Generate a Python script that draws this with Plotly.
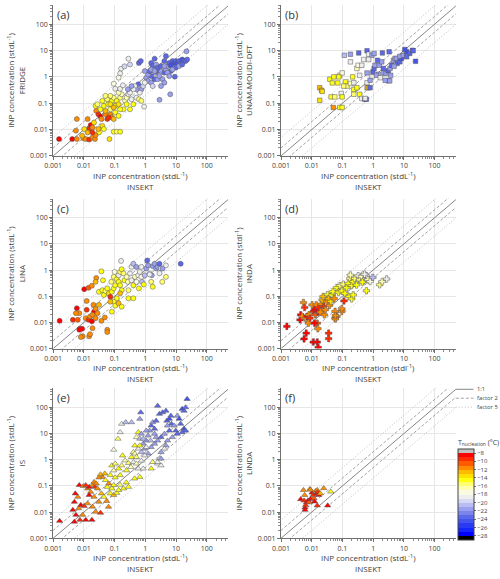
import numpy as np
import plotly.graph_objects as go

# ---------------- data (log10 of INP concentration, stdL-1) ----------------
# (a) FRIDGE vs INSEKT
a_x = [-2.81,-2.38,-2.23,-2.02,-1.94,-1.83,-1.72,-1.64,-2.23,-2.26,
       -1.88,-1.60,-1.83,-1.78,-1.72,-1.67,-1.53,-1.46,-1.43,-1.40,
       -1.35,-1.30,-1.24,-1.14,-1.17,-1.03,-0.93,-0.82,-1.51,-1.62,
       -1.53,-1.88,-1.99,-1.72,-2.06,-1.46,-1.35,-1.30,-1.21,-1.14,
       -1.09,-1.03,-0.98,-0.93,-0.87,-0.82,-0.77,-0.71,-0.66,-0.61,
       -0.55,-0.45,-0.39,-0.29,-0.21,-0.13,-0.04,-1.40,-1.24,-1.14,
       -1.30,-1.14,-0.98,-0.87,-1.09,-1.19,-1.03,-1.62,-1.56,-0.82,
       -0.61,-0.50,-1.03,-1.03,-0.98,-0.87,-0.82,-0.73,-0.55,-0.50,
       -0.79,-0.82,-0.87,-0.68,-0.21,-0.15,0.19,0.30,0.24,0.35,
       0.67,0.62,0.03,0.09,0.19,0.19,0.24,0.30,0.32,0.38,
       0.40,0.46,0.51,0.56,0.62,0.67,0.72,0.78,0.83,0.88,
       0.94,0.99,1.04,1.10,1.15,1.20,1.26,1.31,1.36,1.34,
       0.99,0.83,0.72,0.62,0.51,0.46,0.96,-0.13,-0.07,-0.18,
       -0.29,-0.23,-0.34,-0.39,-0.45,-0.50,-0.57,0.09,-0.02,0.14,
       0.88,1.10,1.20,0.40,0.51,0.78,0.62,0.19,0.30,-0.02,
       0.81]
a_y = [-2.36,-2.36,-2.36,-2.33,-2.36,-2.38,-2.30,-2.36,-1.60,-2.04,
       -1.60,-1.29,-1.98,-1.83,-1.92,-1.73,-1.42,-1.50,-1.60,-1.86,
       -1.98,-1.42,-1.60,-1.42,-2.36,-2.08,-2.08,-2.08,-2.11,-2.21,
       -1.98,-2.11,-1.98,-2.11,-2.23,-1.23,-1.10,-1.29,-1.04,-1.23,
       -0.91,-0.79,-1.10,-0.91,-1.04,-0.79,-0.66,-1.23,-0.91,-0.79,
       -0.66,-0.85,-1.04,-0.79,-0.85,-0.91,-1.13,-0.91,-0.85,-0.72,
       -0.72,-1.04,-1.35,-1.48,-1.54,-1.54,-1.60,-1.10,-1.04,-1.23,
       -1.04,-1.23,-1.16,-0.26,-0.45,-0.60,-0.45,-0.32,0.69,0.47,
       0.31,0.13,-0.03,0.40,0.53,0.60,0.53,0.69,0.41,0.47,
       0.79,0.60,-0.03,-0.16,0.03,-0.22,-0.35,-0.09,0.16,0.22,
       -0.09,0.03,0.22,-0.09,0.16,0.28,0.41,0.53,0.43,0.60,
       0.53,0.60,0.53,0.60,0.53,0.66,0.60,0.60,0.66,0.97,
       0.35,0.22,0.16,-0.22,-0.35,-0.87,0.01,-0.47,-0.35,-0.60,
       -0.47,-0.28,-0.35,-0.47,-0.35,-0.60,-0.47,0.09,-0.22,0.22,
       0.28,0.41,0.47,0.35,0.41,0.03,0.41,0.28,0.22,0.22,
       -0.66]
a_t = [-8.6,-8.6,-11.5,-11.5,-11.5,-9.5,-11.5,-11.5,-11.5,-11.5,
       -11.5,-11.5,-9.5,-8.6,-11.5,-13.5,-9.5,-8.6,-11.5,-13.5,
       -14.5,-11.5,-9.5,-11.5,-13.5,-14.5,-15.5,-14.5,-14.5,-11.5,
       -12.5,-12.5,-13.5,-9.5,-12.5,-14.5,-14.5,-12.5,-14.5,-15.5,
       -14.5,-15.5,-14.5,-14.5,-13.5,-15.5,-16.5,-14.5,-16.5,-16.5,
       -18.5,-18.5,-14.5,-18.5,-15.5,-15.5,-18.5,-14.5,-15.5,-15.5,
       -15.5,-13.5,-14.5,-14.5,-11.5,-9.5,-12.5,-14.5,-15.5,-14.5,
       -14.5,-14.5,-12.5,-17.5,-18.5,-16.5,-18.5,-18.5,-18.5,-19.5,
       -18.5,-18.5,-17.5,-19.5,-23.5,-23.5,-23.5,-23.5,-23.5,-21.5,
       -23.5,-23.5,-21.5,-21.5,-23.5,-21.5,-19.5,-23.5,-21.5,-23.5,
       -21.5,-21.5,-21.5,-21.5,-23.5,-21.5,-21.5,-23.5,-24.5,-23.5,
       -24.5,-23.5,-24.5,-23.5,-23.5,-24.5,-23.5,-23.5,-23.5,-21.5,
       -23.5,-23.5,-21.5,-21.5,-21.5,-21.5,-23.5,-21.5,-19.5,-18.5,
       -21.5,-23.5,-18.5,-18.5,-21.5,-18.5,-21.5,-21.5,-18.5,-23.5,
       -21.5,-21.5,-23.5,-23.5,-23.5,-21.5,-21.5,-21.5,-21.5,-21.5,
       -21.5]

# (b) UNAM-MOUDI-DFT vs INSEKT
b_x = [-1.74,-1.68,-1.66,-1.74,-1.41,-1.28,-1.33,-1.15,-1.09,-1.01,
       -1.12,-1.37,-1.25,-1.30,-1.09,-1.01,-1.04,-1.01,-0.90,-0.85,
       -0.74,-0.96,-0.67,-0.63,-0.63,-0.63,-0.53,-0.49,-0.37,-0.44,
       -0.53,-0.44,-0.37,-0.20,-0.20,-0.16,-0.27,-0.22,-0.10,-0.94,
       -0.74,-0.74,-0.47,-0.20,-0.15,-0.04,0.03,0.30,0.52,-0.15,
       -0.31,-0.20,-0.01,0.03,0.06,0.14,0.20,0.17,0.10,-0.04,
       -0.10,0.28,0.33,0.35,0.42,0.49,0.49,0.55,0.60,0.66,
       0.71,0.76,0.78,0.87,0.92,0.87,0.98,1.09,1.19,1.28,
       1.09,1.03,1.30,1.38,0.39,0.23,0.57,0.54,-0.26,0.68]
b_y = [-0.41,-0.51,-0.55,-0.89,-0.09,0.00,-0.23,-0.23,0.06,0.15,
       0.00,-0.76,-0.76,-1.16,-1.16,-1.16,-0.63,-0.76,-0.19,-0.35,
       -0.25,-0.35,0.00,-0.22,-0.48,-0.66,0.32,0.44,0.44,0.06,
       -0.41,-0.66,-0.82,-0.41,-0.22,-0.41,-0.85,-0.85,-0.41,0.82,
       0.86,0.57,0.91,0.99,0.86,0.82,0.89,0.91,0.95,0.66,
       0.66,0.15,0.19,0.32,0.44,0.63,0.44,0.10,0.06,0.00,
       -0.13,0.57,0.32,0.15,0.13,-0.15,0.23,0.32,0.44,0.63,
       0.70,0.70,0.51,0.57,0.70,0.78,0.82,0.95,0.89,1.01,
       0.76,1.04,0.99,0.59,-0.13,-0.03,0.06,-0.15,-0.82,0.40]
b_t = [-12.5,-12.5,-13.5,-13.5,-14.5,-14.5,-14.5,-14.5,-15.5,-17.5,
       -14.5,-14.5,-15.5,-11.5,-14.5,-14.5,-18.5,-14.5,-14.5,-15.5,
       -16.5,-15.5,-14.5,-18.5,-14.5,-15.5,-16.5,-17.5,-18.5,-18.5,
       -14.5,-14.5,-18.5,-20.5,-18.5,-12.5,-23.5,-23.5,-23.5,-20.5,
       -21.5,-18.5,-23.5,-23.5,-18.5,-21.5,-21.5,-23.5,-23.5,-18.5,
       -18.5,-21.5,-23.5,-23.5,-21.5,-23.5,-21.5,-21.5,-21.5,-18.5,
       -21.5,-21.5,-23.5,-21.5,-21.5,-21.5,-23.5,-21.5,-23.5,-21.5,
       -21.5,-21.5,-23.5,-23.5,-24.5,-21.5,-21.5,-24.5,-23.5,-24.5,
       -23.5,-24.5,-23.5,-24.5,-21.5,-18.5,-21.5,-21.5,-18.5,-21.5]

# (c) LINA vs INSEKT
c_x = [-2.79,-2.36,-2.20,-2.23,-2.15,-2.26,-2.13,-2.06,-2.04,-1.83,
       -1.94,-1.85,-1.80,-1.74,-1.91,-1.99,-1.85,-1.74,-1.60,-1.62,
       -1.91,-1.69,-1.67,-1.62,-1.56,-1.72,-1.62,-1.51,-1.72,-1.43,
       -1.32,-1.24,-1.43,-1.38,-1.51,-1.40,-1.35,-1.30,-1.24,-1.19,
       -1.14,-1.09,-1.03,-0.98,-1.11,-1.03,-1.00,-0.93,-0.87,-0.82,
       -0.77,-0.79,-0.71,-0.68,-0.61,-0.87,-0.82,-0.77,-0.82,-0.93,
       -1.03,-1.14,-0.98,-0.87,-0.77,-0.55,-0.57,-0.50,-0.45,-0.39,
       -0.29,-0.34,-0.45,-0.39,-0.29,-0.23,-0.18,-0.13,-0.21,-0.13,
       -0.11,-0.02,0.03,0.06,0.09,0.14,0.19,0.21,0.24,0.30,
       0.35,0.40,0.46,0.51,0.56,1.15,-0.55,-0.39,-1.09,-2.15,
       -2.10,-1.80,-1.24,0.14,0.67,0.24,0.67,0.46,0.55,-0.05]
c_y = [-1.94,-1.90,-1.90,-1.46,-1.65,-1.65,-2.24,-2.24,-2.53,-2.53,
       -1.84,-1.90,-1.77,-1.96,-1.52,-0.73,-0.68,-0.60,-0.30,-0.45,
       -1.18,-1.33,-1.59,-1.48,-1.65,-1.71,-1.84,-1.33,-2.22,-1.94,
       -1.81,-2.28,-0.05,-0.39,-0.83,-0.77,-0.95,-0.80,-0.70,-0.89,
       -1.02,-0.83,-0.70,-0.58,-0.45,-0.26,-0.07,-0.35,-0.20,-0.07,
       0.03,0.35,-0.13,-0.39,-0.26,-0.45,-0.58,-0.77,-0.89,-1.08,
       -1.21,-1.21,-1.36,-1.27,-1.40,-0.77,-0.45,-0.13,0.12,0.24,
       0.12,-0.26,-0.39,-0.58,-0.45,-0.20,-0.07,-0.26,-0.70,0.12,
       -0.45,-0.20,0.06,0.37,0.18,-0.13,-0.45,-0.20,0.15,0.24,
       0.06,0.12,0.24,0.06,0.06,0.24,-1.08,-1.08,-1.59,-2.28,
       -2.56,-2.45,-2.37,-0.17,-0.26,-0.64,0.18,-0.12,-0.45,-0.55]
c_t = [-8.6,-9.5,-10.5,-8.6,-11.5,-11.5,-8.6,-8.6,-11.5,-11.5,
       -11.5,-9.5,-11.5,-8.6,-9.5,-8.6,-10.5,-11.5,-11.5,-12.5,
       -11.5,-11.5,-8.6,-11.5,-11.5,-11.5,-11.5,-12.5,-11.5,-11.5,
       -11.5,-11.5,-14.5,-14.5,-14.5,-14.5,-14.5,-15.5,-14.5,-13.5,
       -9.5,-14.5,-14.5,-14.5,-15.5,-15.5,-17.5,-14.5,-18.5,-15.5,
       -14.5,-18.5,-15.5,-14.5,-16.5,-14.5,-14.5,-14.5,-12.5,-14.5,
       -14.5,-12.5,-14.5,-12.5,-14.5,-15.5,-16.5,-18.5,-18.5,-20.5,
       -21.5,-16.5,-18.5,-14.5,-17.5,-18.5,-18.5,-17.5,-14.5,-18.5,
       -20.5,-20.5,-21.5,-23.5,-21.5,-18.5,-15.5,-21.5,-21.5,-21.5,
       -21.5,-21.5,-23.5,-18.5,-21.5,-23.5,-14.5,-14.5,-14.5,-8.6,
       -11.5,-11.5,-11.5,-18.5,-15.5,-14.5,-18.5,-18.5,-15.5,-14.5]

# (d) INDA vs INSEKT
d_x = [-2.81,-2.36,-2.38,-2.31,-2.27,-2.23,-2.20,-2.15,-2.09,-2.06,
       -2.18,-2.11,-1.99,-1.95,-1.91,-1.88,-1.85,-1.80,-1.77,-1.72,
       -1.69,-1.66,-1.63,-1.61,-1.59,-1.56,-1.50,-1.48,-1.45,-1.42,
       -1.38,-1.34,-1.31,-1.27,-1.24,-1.18,-1.24,-1.02,-1.02,-1.95,
       -1.82,-1.79,-1.45,-1.45,-1.82,-1.91,-1.18,-1.13,-1.08,-1.02,
       -0.97,-0.95,-0.92,-0.86,-0.81,-0.76,-0.74,-0.70,-0.65,-0.60,
       -0.54,-0.78,-0.70,-0.65,-0.49,-0.44,-0.38,-0.31,-0.22,-0.17,
       -0.01,-0.35,-0.28,-0.10,0.21,0.29,0.44,-0.22,-1.23,-1.23,
       -1.80,-2.25]
d_y = [-2.15,-1.71,-1.90,-1.77,-1.24,-1.43,-1.84,-1.77,-1.71,-1.84,
       -2.41,-2.03,-1.33,-1.58,-1.52,-1.71,-1.33,-1.58,-1.43,-1.61,
       -1.30,-1.14,-1.01,-1.39,-1.71,-1.52,-1.20,-0.94,-1.09,-1.35,
       -1.20,-0.95,-0.82,-1.09,-1.84,-1.77,-1.58,-1.58,-1.48,-2.75,
       -2.75,-2.95,-2.41,-2.62,-2.03,-2.03,-0.67,-0.85,-0.59,-0.80,
       -0.54,-1.18,-0.89,-0.67,-0.51,-0.32,-0.19,-0.59,-0.44,-0.32,
       -0.57,-1.01,-1.10,-0.95,-0.22,-0.37,-0.25,-0.41,-0.22,-0.37,
       -0.28,-0.46,-0.16,-0.44,-0.56,-0.44,-0.34,-0.79,-1.87,-1.74,
       -2.24,-2.63]
d_t = [-8.6,-8.6,-8.6,-11.5,-11.5,-9.5,-11.5,-8.6,-11.5,-9.5,
       -8.6,-11.5,-11.5,-9.5,-8.6,-10.5,-11.5,-8.6,-9.5,-11.5,
       -11.5,-12.5,-12.5,-9.5,-11.5,-11.5,-11.5,-14.5,-12.5,-11.5,
       -13.5,-14.5,-14.5,-11.5,-11.5,-11.5,-11.5,-11.5,-11.5,-8.6,
       -8.6,-8.6,-9.5,-9.5,-10.5,-8.6,-14.5,-14.5,-15.5,-14.5,
       -15.5,-9.5,-14.5,-14.5,-14.5,-15.5,-16.5,-14.5,-14.5,-15.5,
       -14.5,-14.5,-14.5,-14.5,-18.5,-15.5,-16.5,-18.5,-18.5,-16.5,
       -20.5,-14.5,-18.5,-17.5,-15.5,-16.5,-18.5,-14.5,-11.5,-11.5,
       -11.5,-8.6]

# (e) IS vs INSEKT
e_x = [-2.79,-2.31,-2.13,-1.94,-1.74,-2.04,-2.26,-2.36,-2.17,-2.10,
       -1.99,-1.88,-2.31,-2.20,-2.28,-2.15,-2.02,-1.94,-1.88,-1.83,
       -1.78,-1.72,-1.67,-1.64,-1.60,-1.56,-1.83,-1.67,-1.51,-1.72,
       -1.62,-1.46,-1.43,-1.35,-1.40,-1.51,-1.46,-1.32,-1.30,-1.24,
       -1.19,-1.14,-1.09,-1.03,-0.93,-0.87,-1.03,-0.82,-0.71,-0.55,
       -0.98,-1.14,-1.03,-1.09,-0.98,-0.87,-0.82,-0.77,-0.74,-0.66,
       -0.61,-0.55,-0.47,-0.45,-0.39,-0.34,-0.39,-0.29,-0.23,-0.18,
       -0.07,-0.13,-1.03,-0.89,-0.82,-0.77,-0.64,-0.45,-0.18,-0.15,
       -0.23,-0.29,-0.18,-0.13,-0.07,-0.02,0.03,0.09,0.14,0.19,
       0.24,0.30,0.35,0.40,0.46,0.56,0.67,0.70,0.78,0.85,
       0.94,0.99,1.04,1.10,1.20,1.26,1.31,1.36,1.26,1.31,
       1.20,1.04,0.88,0.72,0.67,0.62,0.51,0.46,0.40,0.24,
       0.19,0.51,0.09,0.19,0.30,0.40,0.51,0.62,0.35,0.17,
       0.03,-0.02,-0.13,-0.23,-0.34,-0.29,-0.18,-0.07,0.03,0.30,
       0.78,0.83,1.15,0.72,0.40,0.51,-0.62,-0.35,-1.26,-1.20]
e_y = [-2.34,-2.37,-2.30,-2.30,-2.30,-2.11,-2.11,-1.92,-1.86,-1.73,
       -1.77,-1.67,-1.61,-1.42,-1.29,-0.97,-1.01,-0.97,-1.10,-1.04,
       -1.23,-0.97,-0.85,-1.04,-0.91,-1.10,-1.35,-1.42,-1.61,-1.80,
       -1.99,-2.03,-1.29,-1.42,-0.66,-0.68,-0.56,-0.53,-0.78,-1.04,
       -0.91,-1.29,-1.10,-1.35,-1.27,-1.16,-0.97,-0.96,-1.10,-1.04,
       -0.68,-0.59,-0.41,-0.22,-0.15,-0.34,-0.59,-0.22,0.16,-0.03,
       -0.41,-0.13,-0.28,0.10,0.29,0.54,-0.09,-0.15,-0.34,-0.66,
       -0.34,-0.04,0.38,0.80,1.05,1.37,1.43,1.43,1.56,1.81,
       1.05,0.86,0.80,0.99,0.61,0.42,0.73,0.92,1.11,1.30,
       1.43,1.18,1.49,2.06,1.75,1.81,1.87,1.49,1.56,1.37,
       1.30,1.11,1.68,1.56,1.94,1.87,2.00,2.32,1.18,1.11,
       1.05,0.99,0.86,0.73,0.54,0.42,0.29,0.04,-0.15,-0.09,
       -0.34,-0.22,0.23,0.48,0.61,0.73,0.86,0.99,0.86,0.73,
       0.48,0.16,0.29,0.42,0.23,0.10,0.54,0.80,1.11,0.99,
       1.11,1.68,1.37,1.30,-0.09,0.04,-0.87,-0.72,-1.58,-1.80]
e_t = [-8.6,-8.6,-9.5,-8.6,-8.6,-11.5,-8.6,-8.6,-11.5,-8.6,
       -9.5,-11.5,-8.6,-11.5,-8.6,-8.6,-11.5,-9.5,-11.5,-8.6,
       -11.5,-11.5,-11.5,-9.5,-11.5,-11.5,-8.6,-11.5,-11.5,-11.5,
       -11.5,-9.5,-12.5,-14.5,-11.5,-11.5,-12.5,-12.5,-14.5,-14.5,
       -11.5,-14.5,-14.5,-12.5,-14.5,-14.5,-14.5,-15.5,-14.5,-14.5,
       -14.5,-14.5,-16.5,-14.5,-15.5,-14.5,-14.5,-15.5,-14.5,-16.5,
       -14.5,-15.5,-16.5,-14.5,-15.5,-14.5,-18.5,-16.5,-18.5,-14.5,
       -18.5,-18.5,-17.5,-15.5,-18.5,-18.5,-20.5,-20.5,-21.5,-23.5,
       -14.5,-16.5,-20.5,-21.5,-21.5,-21.5,-21.5,-21.5,-21.5,-23.5,
       -21.5,-23.5,-23.5,-23.5,-23.5,-23.5,-23.5,-23.5,-24.5,-23.5,
       -21.5,-23.5,-21.5,-24.5,-24.5,-23.5,-23.5,-24.5,-24.5,-23.5,
       -23.5,-23.5,-21.5,-21.5,-21.5,-18.5,-21.5,-18.5,-18.5,-15.5,
       -14.5,-18.5,-21.5,-21.5,-21.5,-21.5,-23.5,-21.5,-21.5,-20.5,
       -18.5,-18.5,-20.5,-18.5,-16.5,-15.5,-14.5,-20.5,-21.5,-21.5,
       -23.5,-23.5,-23.5,-21.5,-18.5,-21.5,-14.5,-14.5,-11.5,-11.5]

# (f) LINDA vs INSEKT
f_x = [-2.36,-2.27,-2.23,-2.25,-2.22,-2.22,-2.20,-2.17,-2.12,-2.09,
       -2.06,-2.04,-1.99,-1.95,-1.93,-1.91,-1.88,-1.82,-1.84,-1.80,
       -1.77,-1.72,-1.61,-1.38,-1.48,-1.82,-2.04]
f_y = [-1.51,-1.16,-1.35,-1.56,-1.83,-1.92,-1.73,-1.63,-1.56,-1.63,
       -1.12,-1.50,-1.26,-1.35,-1.47,-1.60,-1.20,-1.16,-1.29,-1.24,
       -1.35,-1.29,-1.09,-1.22,-1.75,-1.75,-1.15]
f_t = [-8.6,-11.5,-11.5,-9.5,-8.6,-8.6,-9.5,-8.6,-8.6,-10.5,
       -11.5,-8.6,-8.6,-9.5,-10.5,-8.6,-11.5,-11.5,-8.6,-9.5,
       -8.6,-12.5,-11.5,-14.5,-8.6,-9.5,-11.5]

tick_vals = [0.001, 0.01, 0.1, 1, 10, 100]
tick_text = ["0.001", "0.01", "0.1", "1", "10", "100"]
cbar_ticks = [-8, -10, -12, -14, -16, -18, -20, -22, -24, -26, -28]

# reference lines: y = factor * x
ref_x = [1e-4, 1e4]
ref_factors = [5, 0.2, 2, 0.5, 1]

# ---------------- styling ----------------
FONT = "Open Sans"
TXT = "#404040"
W, H = 500, 579

LINE_1 = dict(color="#777777", width=0.9, dash="solid")
LINE_2 = dict(color="#8c8c8c", width=0.8, dash="3px,2px")
LINE_5 = dict(color="#b8b8b8", width=0.9, dash="1px,2px")

# discrete temperature colour bins, -29 (bottom) .. -7 (top), 1 degC each
cb_colors = ["#000000", "#0000ff", "#1424fc", "#2a3af4", "#4452ee", "#5c68ea",
             "#7a84ea", "#9aa0ee", "#b8bcf2", "#d6d8f4", "#eeeeee", "#fafae2",
             "#ffffb4", "#ffff70", "#ffff10", "#ffe000", "#ffba00", "#ff8c00",
             "#ff5a00", "#ff2a00", "#ff0000", "#c0c0c0"]
ncb = len(cb_colors)
colorscale = []
for i, c in enumerate(cb_colors):
    colorscale.append([i / ncb, c])
    colorscale.append([(i + 1) / ncb, c])

panels = [
    dict(lab="(a)", name="FRIDGE", x=a_x, y=a_y, t=a_t, sym="circle", size=5, unit="stdL"),
    dict(lab="(b)", name="UNAM-MOUDI-DFT", x=b_x, y=b_y, t=b_t, sym="square", size=4.5, unit="stdL"),
    dict(lab="(c)", name="LINA", x=c_x, y=c_y, t=c_t, sym="circle", size=5, unit="stdL"),
    dict(lab="(d)", name="INDA", x=d_x, y=d_y, t=d_t, sym="cross", size=5.5, unit="stdl"),
    dict(lab="(e)", name="IS", x=e_x, y=e_y, t=e_t, sym="triangle-up", size=5.5, unit="stdL"),
    dict(lab="(f)", name="LINDA", x=f_x, y=f_y, t=f_t, sym="triangle-up", size=5.5, unit="stdL"),
]

# plot-area pixel boxes
col_px = [(45, 223), (277, 455)]
row_px = [(5, 157), (200, 351), (391, 542)]
x_domains = [[a / W, b / W] for a, b in col_px]
y_domains = [[1 - b / H, 1 - a / H] for a, b in row_px]

minor_vals = [m * 10.0 ** e for e in range(-3, 3) for m in range(2, 10)]

fig = go.Figure()
layout = dict()
annotations = []

for i, p in enumerate(panels):
    n = i + 1
    xa = "x" if n == 1 else f"x{n}"
    ya = "y" if n == 1 else f"y{n}"
    col = i % 2
    row = i // 2
    for f in ref_factors:
        if f == 1:
            ls = LINE_1
        elif f in (2, 0.5):
            ls = LINE_2
        else:
            ls = LINE_5
        fig.add_trace(go.Scatter(x=ref_x, y=[f * v for v in ref_x], mode="lines",
                                 line=ls, xaxis=xa, yaxis=ya, showlegend=False,
                                 hoverinfo="skip"))
    fig.add_trace(go.Scatter(
        x=np.power(10.0, p["x"]), y=np.power(10.0, p["y"]), mode="markers",
        marker=dict(symbol=p["sym"], size=p["size"], color=p["t"], coloraxis="coloraxis",
                    line=dict(color="#555555", width=0.5)),
        xaxis=xa, yaxis=ya, showlegend=False, name=p["name"]))

    axis_common = dict(type="log", tickvals=tick_vals, ticktext=tick_text,
                       showgrid=True, gridcolor="#e6e6e6", gridwidth=1, zeroline=False,
                       showline=True, linecolor="#707070", linewidth=1,
                       ticks="outside", ticklen=3, tickcolor="#707070",
                       tickfont=dict(size=7, color=TXT, family=FONT),
                       minor=dict(tickvals=minor_vals, ticks="outside", ticklen=2,
                                  tickcolor="#8a8a8a", showgrid=False))
    xkey = "xaxis" if n == 1 else f"xaxis{n}"
    ykey = "yaxis" if n == 1 else f"yaxis{n}"
    layout[xkey] = dict(axis_common, domain=x_domains[col], range=[-3, 2.69], anchor=ya)
    layout[ykey] = dict(axis_common, domain=y_domains[row], range=[-3, 2.73], anchor=xa,
                        title=dict(text=f"INP concentration ({p['unit']}<sup>-1</sup>)<br>{p['name']}",
                                   font=dict(size=8, color=TXT, family=FONT), standoff=3))
    # x-axis title (two lines) placed under the tick labels
    x0, x1 = col_px[col]
    yb = row_px[row][1]
    annotations.append(dict(text=f"INP concentration ({p['unit']}<sup>-1</sup>)<br>INSEKT",
                            xref="paper", yref="paper", x=(x0 + x1) / 2 / W,
                            y=1 - (yb + 12) / H, xanchor="center", yanchor="top",
                            showarrow=False, font=dict(size=8, color=TXT, family=FONT)))
    annotations.append(dict(text=p["lab"], xref=f"{xa} domain", yref=f"{ya} domain",
                            x=0.01, y=1.0, xanchor="left", yanchor="top", showarrow=False,
                            font=dict(size=11, color="#333333", family=FONT)))

# legend for the reference lines
leg_items = [("1:1", LINE_1, 392), ("factor 2", LINE_2, 401), ("factor 5", LINE_5, 410)]
shapes = []
for txt, ls, py in leg_items:
    yp = 1 - py / H
    shapes.append(dict(type="line", xref="paper", yref="paper", x0=455 / W, x1=473 / W,
                       y0=yp, y1=yp, line=ls))
    annotations.append(dict(text=txt, xref="paper", yref="paper", x=475 / W, y=yp,
                            xanchor="left", yanchor="middle", showarrow=False,
                            font=dict(size=5.8, color=TXT, family=FONT)))

# colour-bar title
annotations.append(dict(text="T<sub>nucleation</sub> (°C)", xref="paper", yref="paper",
                        x=455 / W, y=1 - 446 / H, xanchor="left", yanchor="middle",
                        showarrow=False, font=dict(size=7, color=TXT, family=FONT)))

fig.update_layout(
    **layout,
    width=W, height=H,
    margin=dict(l=0, r=0, t=0, b=0),
    paper_bgcolor="white", plot_bgcolor="white",
    font=dict(family=FONT, color=TXT, size=8),
    showlegend=False,
    annotations=annotations,
    shapes=shapes,
    coloraxis=dict(
        colorscale=colorscale, cmin=-29, cmax=-7,
        colorbar=dict(x=457 / W, xanchor="left", xpad=0, y=1 - 452 / H, yanchor="top",
                      ypad=0, len=92 / H, lenmode="fraction", thickness=16,
                      outlinewidth=1, outlinecolor="#444444",
                      tickvals=cbar_ticks, ticks="outside", ticklen=2, tickcolor="#707070",
                      tickfont=dict(size=6, color=TXT, family=FONT)),
    ),
)

fig.write_html("out.html",
               config={"displayModeBar": False},
               post_script="document.body.style.margin='0px';"
                           "document.body.style.padding='0px';"
                           "document.body.style.overflow='hidden';")
